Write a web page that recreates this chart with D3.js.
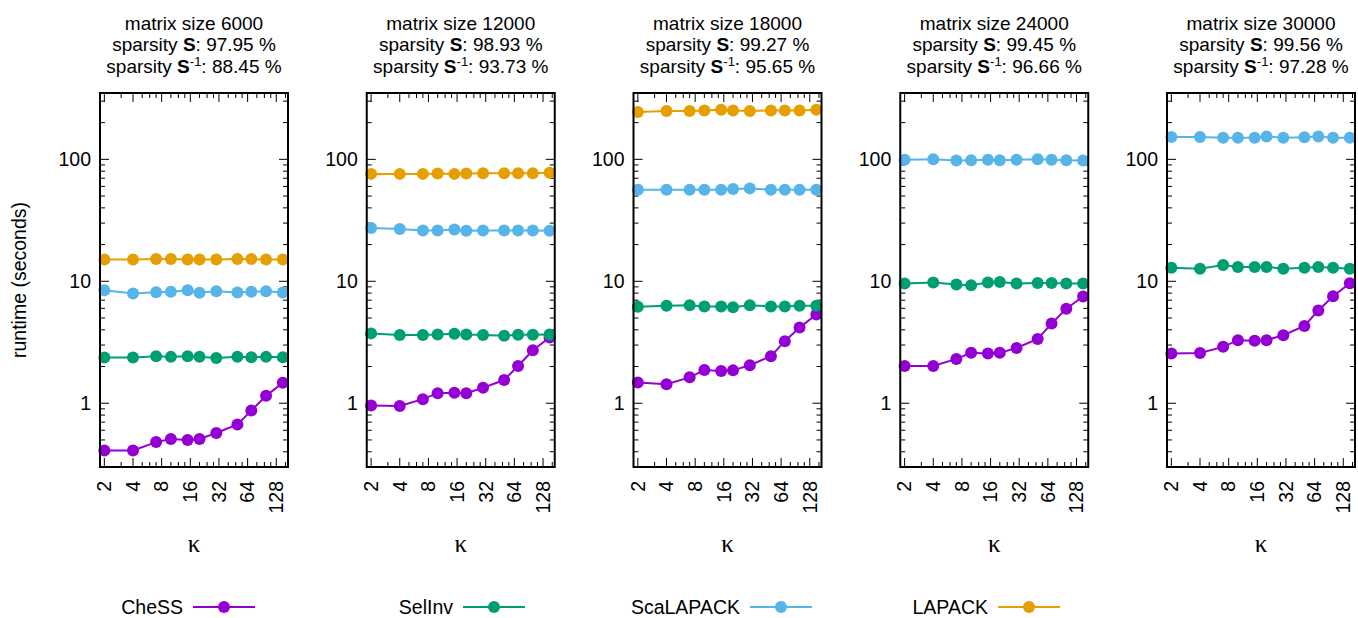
<!DOCTYPE html>
<html>
<head>
<meta charset="utf-8">
<script src="https://cdn.jsdelivr.net/npm/d3@7"></script>
<style>
  html, body { margin: 0; padding: 0; background: #fff; }
  svg { display: block; font-family: "Liberation Sans", Arial, sans-serif; }
</style>
</head>
<body>
<svg id="chart" width="1358" height="618"></svg>
<script>
// ---------------- data ----------------
const kappa = [2, 4, 7, 10, 15, 20, 30, 50, 70, 100, 150];
const xTickValues = [2, 4, 8, 16, 32, 64, 128];
const yTickValues = [1, 10, 100];
const seriesNames = ["CheSS", "SelInv", "ScaLAPACK", "LAPACK"];
const seriesColors = ["#9400d3", "#009e73", "#56b4e9", "#e69f00"];

const matrixSizes = [6000, 12000, 18000, 24000, 30000];
const sparsityS = ["97.95", "98.93", "99.27", "99.45", "99.56"];
const sparsitySinv = ["88.45", "93.73", "95.65", "96.66", "97.28"];

// runtime (seconds), one array per method per panel
const chess6000  = [0.41, 0.41, 0.48, 0.51, 0.50, 0.51, 0.57, 0.67, 0.87, 1.15, 1.47];
const selinv6000 = [2.37, 2.37, 2.43, 2.40, 2.43, 2.41, 2.35, 2.41, 2.38, 2.40, 2.38];
const scalapack6000 = [8.45, 7.95, 8.13, 8.2, 8.45, 8.04, 8.3, 8.1, 8.2, 8.3, 8.1];
const lapack6000 = [15.1, 15.1, 15.2, 15.2, 15.1, 15.1, 15.1, 15.2, 15.2, 15.1, 15.1];

const chess12000  = [0.96, 0.95, 1.08, 1.21, 1.22, 1.21, 1.34, 1.55, 2.02, 2.72, 3.46];
const selinv12000 = [3.74, 3.62, 3.62, 3.66, 3.71, 3.66, 3.62, 3.58, 3.64, 3.64, 3.66];
const scalapack12000 = [27.4, 26.9, 26.1, 26.1, 26.6, 26.0, 26.1, 26.1, 26.1, 26.1, 26.0];
const lapack12000 = [76, 76, 76, 76.5, 76, 76.5, 77, 77, 77, 77, 77.5];

const chess18000  = [1.48, 1.43, 1.63, 1.87, 1.84, 1.86, 2.05, 2.43, 3.23, 4.17, 5.35];
const selinv18000 = [6.17, 6.29, 6.37, 6.21, 6.21, 6.13, 6.37, 6.21, 6.21, 6.29, 6.29];
const scalapack18000 = [56.4, 56.4, 56.4, 56.4, 56.4, 57.1, 57.8, 56.4, 56.4, 56.4, 56.4];
const lapack18000 = [245, 249, 249, 252, 255, 252, 249, 252, 252, 252, 255];

const chess24000  = [2.02, 2.02, 2.31, 2.59, 2.56, 2.59, 2.84, 3.37, 4.5, 5.95, 7.51];
const selinv24000 = [9.58, 9.76, 9.40, 9.3, 9.76, 9.88, 9.58, 9.7, 9.7, 9.58, 9.58];
const scalapack24000 = [99.1, 100.4, 97.8, 98.5, 99.1, 98.5, 99.1, 100.4, 99.1, 98.5, 97.8];
const lapack24000 = [];

const chess30000  = [2.56, 2.58, 2.9, 3.29, 3.26, 3.29, 3.61, 4.3, 5.77, 7.55, 9.65];
const selinv30000 = [12.9, 12.7, 13.6, 13.1, 13.1, 13.1, 12.7, 12.9, 13.1, 12.9, 12.7];
const scalapack30000 = [152.7, 152.7, 150.6, 150.6, 150.6, 153.6, 150.6, 151.7, 153.6, 150.6, 150.6];
const lapack30000 = [];

const panelSeries = [
  [chess6000, selinv6000, scalapack6000, lapack6000],
  [chess12000, selinv12000, scalapack12000, lapack12000],
  [chess18000, selinv18000, scalapack18000, lapack18000],
  [chess24000, selinv24000, scalapack24000, lapack24000],
  [chess30000, selinv30000, scalapack30000, lapack30000]
];

// ---------------- layout ----------------
const svg = d3.select("#chart");
const panelLeft0 = 100, panelPitch = 266.75, panelW = 188;
const plotTop = 93, plotBottom = 467;
const fontSize = 19.5;
const titleSize = 19;

const x = d3.scaleLog().base(2).domain([1.8, 170]).range([0, panelW]);
const y = d3.scaleLog().domain([0.3, 350]).range([plotBottom, plotTop]);

// minor ticks
const xMinor = [3, 5, 6, 7, 10, 12, 14, 20, 24, 28, 40, 48, 56, 80, 96, 112, 160];
const yMinor = [];
[0.1, 1, 10, 100].forEach(d => { for (let k = 2; k <= 9; k++) { const v = d * k; if (v >= 0.3 && v <= 350) yMinor.push(v); } });

matrixSizes.forEach((size, p) => {
  const left = panelLeft0 + p * panelPitch;
  const g = svg.append("g").attr("transform", `translate(${left},0)`);
  const cx = panelW / 2;

  // ticks (inward, mirrored)
  const tk = g.append("g").attr("stroke", "#000").attr("stroke-width", 1);
  yTickValues.forEach(v => {
    tk.append("line").attr("x1", 0).attr("x2", 9).attr("y1", y(v)).attr("y2", y(v));
    tk.append("line").attr("x1", panelW).attr("x2", panelW - 9).attr("y1", y(v)).attr("y2", y(v));
  });
  yMinor.forEach(v => {
    tk.append("line").attr("x1", 0).attr("x2", 5).attr("y1", y(v)).attr("y2", y(v));
    tk.append("line").attr("x1", panelW).attr("x2", panelW - 5).attr("y1", y(v)).attr("y2", y(v));
  });
  xTickValues.forEach(v => {
    tk.append("line").attr("x1", x(v)).attr("x2", x(v)).attr("y1", plotBottom).attr("y2", plotBottom - 9);
    tk.append("line").attr("x1", x(v)).attr("x2", x(v)).attr("y1", plotTop).attr("y2", plotTop + 9);
  });
  xMinor.forEach(v => {
    tk.append("line").attr("x1", x(v)).attr("x2", x(v)).attr("y1", plotBottom).attr("y2", plotBottom - 5);
    tk.append("line").attr("x1", x(v)).attr("x2", x(v)).attr("y1", plotTop).attr("y2", plotTop + 5);
  });

  // series
  const line = d3.line().x((d, i) => x(kappa[i])).y(d => y(d));
  panelSeries[p].forEach((vals, s) => {
    if (!vals.length) return;
    g.append("path").datum(vals)
      .attr("d", line).attr("fill", "none")
      .attr("stroke", seriesColors[s]).attr("stroke-width", 2);
    g.selectAll(null).data(vals).enter().append("circle")
      .attr("cx", (d, i) => x(kappa[i])).attr("cy", d => y(d))
      .attr("r", 6).attr("fill", seriesColors[s]);
  });

  // frame
  g.append("rect").attr("x", 0).attr("y", plotTop)
    .attr("width", panelW).attr("height", plotBottom - plotTop)
    .attr("fill", "none").attr("stroke", "#000").attr("stroke-width", 2);

  // y tick labels
  yTickValues.forEach(v => {
    g.append("text").attr("x", -9).attr("y", y(v)).attr("dy", "0.35em")
      .attr("text-anchor", "end").attr("font-size", fontSize).text(v);
  });
  // x tick labels (rotated)
  xTickValues.forEach(v => {
    g.append("text")
      .attr("transform", `translate(${x(v)},${plotBottom + 14}) rotate(-90)`)
      .attr("dy", "0.35em").attr("text-anchor", "end")
      .attr("font-size", fontSize).text(v);
  });
  // x axis label
  g.append("text").attr("x", cx).attr("y", 552).attr("text-anchor", "middle")
    .attr("font-family", "'Liberation Serif', 'DejaVu Serif', serif")
    .attr("font-size", 25).text("κ");

  // titles
  g.append("text").attr("x", cx).attr("y", 29.5).attr("text-anchor", "middle")
    .attr("font-size", titleSize).text(`matrix size ${size}`);
  const t2 = g.append("text").attr("x", cx).attr("y", 51).attr("text-anchor", "middle")
    .attr("font-size", titleSize);
  t2.append("tspan").text("sparsity ");
  t2.append("tspan").attr("font-weight", "bold").text("S");
  t2.append("tspan").text(`: ${sparsityS[p]} %`);
  const t3 = g.append("text").attr("x", cx).attr("y", 72.5).attr("text-anchor", "middle")
    .attr("font-size", titleSize);
  t3.append("tspan").text("sparsity ");
  t3.append("tspan").attr("font-weight", "bold").text("S");
  t3.append("tspan").attr("font-size", 13).attr("dy", -7).text("-1");
  t3.append("tspan").attr("dy", 7).text(`: ${sparsitySinv[p]} %`);
});

// y axis label
svg.append("text")
  .attr("transform", `translate(19,${(plotTop + plotBottom) / 2}) rotate(-90)`)
  .attr("dy", "0.35em").attr("text-anchor", "middle")
  .attr("font-size", fontSize).text("runtime (seconds)");

// legend
const legendTextEnd = [183, 453, 740, 988];
const legendY = 607;
seriesNames.forEach((name, s) => {
  const tx = legendTextEnd[s];
  svg.append("text").attr("x", tx).attr("y", legendY).attr("dy", "0.35em")
    .attr("text-anchor", "end").attr("font-size", fontSize).text(name);
  svg.append("line").attr("x1", tx + 10).attr("x2", tx + 72)
    .attr("y1", legendY).attr("y2", legendY)
    .attr("stroke", seriesColors[s]).attr("stroke-width", 2);
  svg.append("circle").attr("cx", tx + 41).attr("cy", legendY).attr("r", 6)
    .attr("fill", seriesColors[s]);
});
</script>
</body>
</html>
